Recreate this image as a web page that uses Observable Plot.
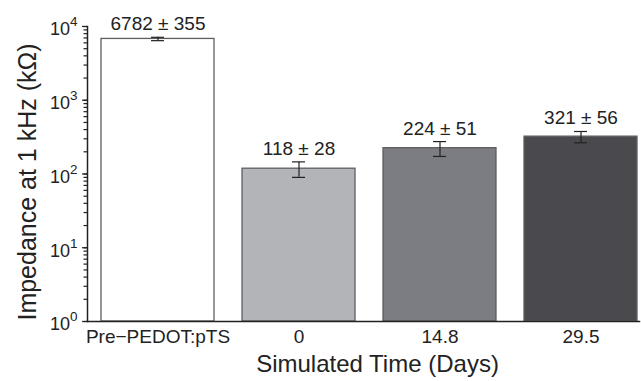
<!DOCTYPE html>
<html>
<head>
<meta charset="utf-8">
<script src="https://cdn.jsdelivr.net/npm/d3@7"></script>
<script src="https://cdn.jsdelivr.net/npm/@observablehq/plot@0.6"></script>
<style>
  body { margin: 0; background: #fff; overflow: hidden; }
  #chart svg { overflow: visible; }
</style>
</head>
<body>
<div id="chart"></div>
<script>
// Impedance at 1 kHz before PEDOT:pTS deposition and over simulated aging time
const categories = ["Pre\u2212PEDOT:pTS", "0", "14.8", "29.5"];
const impedance = [6782, 118, 224, 321];   // mean, kΩ
const errors = [355, 28, 51, 56];           // ± spread, kΩ
const fills = ["#ffffff", "#b3b4b8", "#7c7d82", "#4a4a4e"];
const yMajorTicks = [1, 10, 100, 1000, 10000];
const xTitle = "Simulated Time (Days)";
const yTitle = "Impedance at 1 kHz (k\u03a9)";

const data = categories.map((c, i) => ({
  cat: c,
  value: impedance[i],
  err: errors[i],
  fill: fills[i],
  lo: impedance[i] - errors[i],
  hi: impedance[i] + errors[i]
}));

const ink = "#222";
const minorTicks = d3.scaleLog().domain([1, 1e4]).ticks();

const chart = Plot.plot({
  width: 641,
  height: 381,
  marginLeft: 87,
  marginRight: 2,
  marginTop: 26,
  marginBottom: 60,
  style: { fontFamily: "'Liberation Sans', Arial, sans-serif", color: ink, background: "#fff" },
  x: { domain: categories, range: [101, 637], paddingInner: 0.2, paddingOuter: 0 },
  y: { type: "log", domain: [1, 1e4] },
  color: { type: "identity" },
  marks: [
    Plot.barY(data, { x: "cat", y1: 1, y2: "value", fill: "fill", stroke: "#5e5e62", strokeWidth: 1.3 }),
    // error bars
    Plot.ruleX(data, { x: "cat", y1: "lo", y2: "hi", stroke: ink, strokeWidth: 1.2 }),
    Plot.tickY(data, { x: "cat", y: "hi", insetLeft: 50, insetRight: 50, stroke: ink, strokeWidth: 1.2 }),
    Plot.tickY(data, { x: "cat", y: "lo", insetLeft: 50, insetRight: 50, stroke: ink, strokeWidth: 1.2 }),
    // value labels
    Plot.text(data, {
      x: "cat", y: "hi",
      text: d => `${d.value} \u00b1 ${d.err}`,
      lineAnchor: "bottom", dy: -7, fontSize: 19, fill: ink
    }),
    // minor and major y ticks
    Plot.axisY({ ticks: minorTicks, tickSize: 3.5, tickFormat: () => "", stroke: ink, strokeWidth: 1.2, label: null }),
    Plot.axisY({
      ticks: yMajorTicks,
      tickSize: 5, tickPadding: 5, fontSize: 18, stroke: ink, strokeWidth: 1.2,
      tickFormat: d => "10^" + Math.round(Math.log10(d)),
      label: null
    }),
    Plot.axisX({ tickSize: 0, tickPadding: 7.5, fontSize: 19, label: null }),
    // axis titles
    Plot.text([yTitle], {
      frameAnchor: "left", rotate: -90, dx: -60, dy: 8,
      fontSize: 25, fill: ink, textAnchor: "middle", lineAnchor: "middle"
    }),
    Plot.text([xTitle], {
      frameAnchor: "bottom", dx: 14, dy: 43,
      fontSize: 24, fill: ink, textAnchor: "middle", lineAnchor: "middle"
    }),
    Plot.frame({ anchor: "left", stroke: ink, strokeWidth: 1.5 }),
    Plot.frame({ anchor: "bottom", stroke: ink, strokeWidth: 1.5 })
  ]
});

// power-of-ten tick labels with superscript exponents
d3.select(chart).selectAll("text").each(function () {
  const t = d3.select(this);
  const m = /^10\^(\d)$/.exec(t.text());
  if (!m) return;
  t.text(null).attr("font-size", 18);
  t.append("tspan").attr("dy", 3).text("10");
  t.append("tspan").attr("dy", -9).attr("font-size", 13.5).text(m[1]);
});

document.getElementById("chart").appendChild(chart);
</script>
</body>
</html>
